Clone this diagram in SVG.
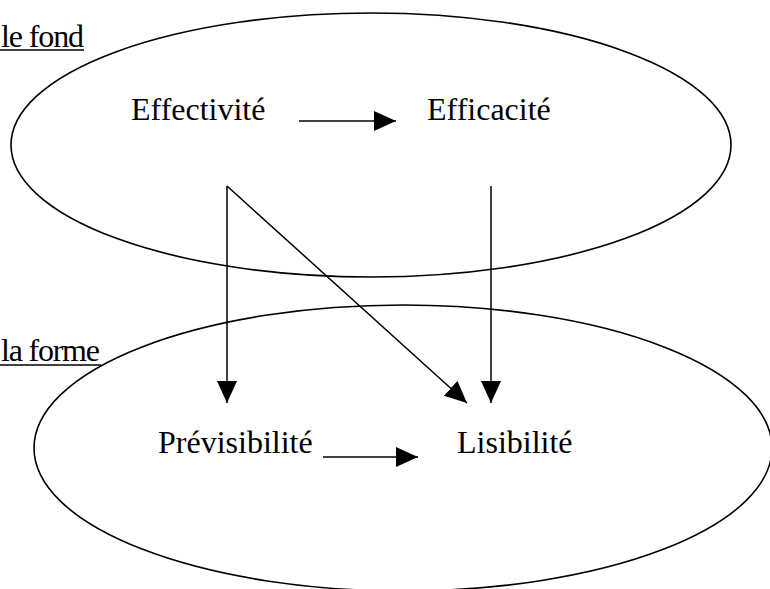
<svg xmlns="http://www.w3.org/2000/svg" width="770" height="589" viewBox="0 0 770 589">
<style>
.ell{fill:none;stroke:#000;stroke-width:1.6}
.lbl{font-family:"Liberation Serif","Times New Roman",serif;font-size:32px;fill:#000}
.ln{stroke:#000;stroke-width:1.5;fill:none}
.ul{stroke:#000;stroke-width:1.3}
</style>
<defs>
<marker id="ah" markerUnits="userSpaceOnUse" markerWidth="24" markerHeight="22" refX="22" refY="10" orient="auto">
<path d="M0,0 L22,10 L0,20 Z" fill="#000"/>
</marker>
</defs>
<rect width="770" height="589" fill="#fff"/>
<g id="fond">
<ellipse class="ell" cx="371" cy="145" rx="360" ry="132"/>
<text class="lbl" x="1" y="47" textLength="83" lengthAdjust="spacing">le fond</text>
<line class="ul" x1="0" y1="50" x2="84" y2="50"/>
</g>
<g id="forme">
<ellipse class="ell" cx="403" cy="448" rx="369" ry="143"/>
<text class="lbl" x="1" y="361" textLength="99" lengthAdjust="spacing">la forme</text>
<line class="ul" x1="0" y1="365" x2="101" y2="365"/>
</g>
<g id="effectivite"><text class="lbl" x="131" y="120">Effectivité</text></g>
<g id="efficacite"><text class="lbl" x="427" y="120">Efficacité</text></g>
<g id="previsibilite"><text class="lbl" x="158" y="453">Prévisibilité</text></g>
<g id="lisibilite"><text class="lbl" x="457" y="453">Lisibilité</text></g>
<g id="connectors">
<line class="ln" x1="299" y1="121" x2="396" y2="121" marker-end="url(#ah)"/>
<line class="ln" x1="227" y1="186" x2="227" y2="403" marker-end="url(#ah)"/>
<line class="ln" x1="227" y1="186" x2="467" y2="403" marker-end="url(#ah)"/>
<line class="ln" x1="491" y1="186" x2="491" y2="403" marker-end="url(#ah)"/>
<line class="ln" x1="323" y1="457" x2="418" y2="457" marker-end="url(#ah)"/>
</g>
</svg>
